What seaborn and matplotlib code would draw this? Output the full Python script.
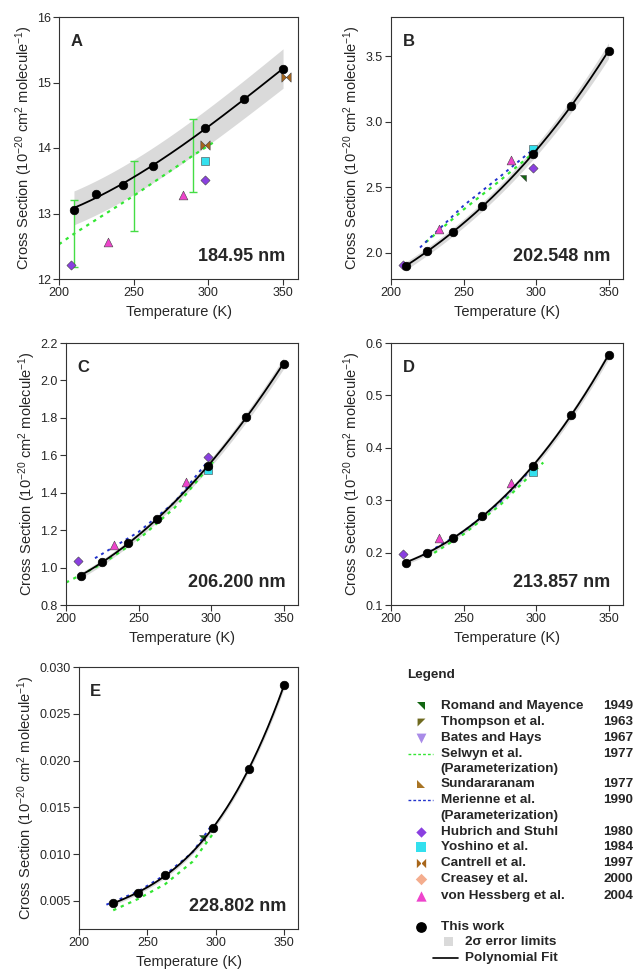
import numpy as np
import seaborn as sns
import matplotlib.pyplot as plt
from matplotlib.path import Path
from matplotlib.patches import Rectangle

sns.set_style('ticks')
plt.rcParams['font.family'] = ['Liberation Sans', 'DejaVu Sans']
plt.rcParams['mathtext.default'] = 'regular'

# this work temperatures (K)
T_work = [210, 225, 243, 263, 298, 324, 350]
T_work_E = [225, 243, 263, 298, 324, 350]

# this work cross sections, one list per wavelength
A_work = [13.06, 13.30, 13.43, 13.73, 14.30, 14.75, 15.21]
B_work = [1.898, 2.013, 2.158, 2.357, 2.751, 3.12, 3.541]
C_work = [0.957, 1.028, 1.133, 1.259, 1.542, 1.802, 2.09]
D_work = [0.181, 0.200, 0.227, 0.270, 0.365, 0.462, 0.577]
E_work = [0.00475, 0.00589, 0.00774, 0.01279, 0.01915, 0.02812]

# half width of the 2 sigma band
A_band = [0.26, 0.26, 0.26, 0.27, 0.28, 0.29, 0.30]
B_band = [0.03, 0.03, 0.03, 0.035, 0.04, 0.05, 0.06]
C_band = [0.015, 0.015, 0.016, 0.018, 0.02, 0.025, 0.03]
D_band = [0.004, 0.004, 0.004, 0.005, 0.006, 0.007, 0.008]
E_band = [0.0002, 0.0002, 0.0002, 0.0003, 0.0003, 0.0004]

# other measurements
T_hubrich = [208, 298]
A_hubrich = [12.22, 13.51]
B_hubrich = [1.906, 2.645]
C_hubrich = [1.035, 1.592]
T_hubrich_D = [208]
D_hubrich = [0.197]

T_hessberg = [233, 283]
A_hessberg = [12.57, 13.29]
B_hessberg = [2.183, 2.705]
C_hessberg = [1.12, 1.458]
D_hessberg = [0.227, 0.332]

T_yoshino = [298]
A_yoshino = [13.80]
B_yoshino = [2.789]
C_yoshino = [1.524]
D_yoshino = [0.353]

T_cantrell = [298, 352]
A_cantrell = [14.05, 15.08]

T_romand_B = [291]
B_romand = [2.57]
T_romand_E = [290]
E_romand = [0.0117]

# Selwyn et al. parameterization (green) and error bars
T_selwyn_A = [200, 210, 250, 290, 303]
A_selwyn = [12.53, 12.69, 13.27, 13.89, 14.08]
T_selwyn_err = [210, 250, 290]
A_selwyn_err = [12.69, 13.27, 13.89]
A_selwyn_sig = [0.51, 0.53, 0.56]
T_selwyn_B = [224, 250, 275, 298]
B_selwyn = [2.08, 2.33, 2.55, 2.76]
T_selwyn_C = [200, 225, 250, 275, 303]
C_selwyn = [0.92, 1.02, 1.15, 1.32, 1.58]
T_selwyn_D = [225, 250, 275, 305]
D_selwyn = [0.191, 0.235, 0.29, 0.372]
T_selwyn_E = [225, 243, 263, 283, 299]
E_selwyn = [0.0040, 0.0052, 0.0068, 0.0092, 0.0124]

# Merienne et al. parameterization (blue)
T_merienne_B = [220, 250, 275, 297]
B_merienne = [2.04, 2.36, 2.58, 2.78]
T_merienne_C = [220, 250, 275, 297]
C_merienne = [1.05, 1.19, 1.35, 1.56]
T_merienne_D = [222, 250, 275, 297]
D_merienne = [0.195, 0.24, 0.296, 0.36]
T_merienne_E = [220, 243, 263, 283, 297]
E_merienne = [0.0046, 0.0060, 0.0078, 0.0102, 0.0131]

legend_names = ['Romand and Mayence', 'Thompson et al.', 'Bates and Hays',
                'Selwyn et al.', 'Sundararanam', 'Merienne et al.',
                'Hubrich and Stuhl', 'Yoshino et al.', 'Cantrell et al.',
                'Creasey et al.', 'von Hessberg et al.']
legend_years = ['1949', '1963', '1967', '1977', '1977', '1990',
                '1980', '1984', '1997', '2000', '2004']

# colours
c_green = '#33e633'
c_blue = '#2233cc'
c_band = '#dadada'
c_hub = '#8a3fe0'
c_hes = '#ee44cc'
c_yos = '#33e0ee'
c_can = '#a8661a'
c_rom = '#116611'
c_tho = '#6f6a1f'
c_bat = '#a98be8'
c_sun = '#a87424'
c_cre = '#f4ad8e'

# custom markers
bowtie = Path([(-1, -1), (0, 0), (-1, 1), (-1, -1), (1, -1), (0, 0), (1, 1), (1, -1)],
              [Path.MOVETO, Path.LINETO, Path.LINETO, Path.CLOSEPOLY,
               Path.MOVETO, Path.LINETO, Path.LINETO, Path.CLOSEPOLY])
tri_tr = Path([(-1, 1), (1, 1), (1, -1), (-1, 1)],
              [Path.MOVETO, Path.LINETO, Path.LINETO, Path.CLOSEPOLY])
tri_tl = Path([(-1, 1), (1, 1), (-1, -1), (-1, 1)],
              [Path.MOVETO, Path.LINETO, Path.LINETO, Path.CLOSEPOLY])
tri_bl = Path([(-1, 1), (-1, -1), (1, -1), (-1, 1)],
              [Path.MOVETO, Path.LINETO, Path.LINETO, Path.CLOSEPOLY])

fig = plt.figure(figsize=(6.34, 9.71), dpi=100)
W, H = 634, 971


def px_axes(x0, x1, y0, y1):
    # axes box from pixel edges
    return fig.add_axes([x0 / W, 1 - y1 / H, (x1 - x0) / W, (y1 - y0) / H])


axA = px_axes(59, 298, 17, 279)
axB = px_axes(391, 623, 17, 279)
axC = px_axes(66, 298, 343, 605)
axD = px_axes(391, 623, 343, 605)
axE = px_axes(79, 298, 667, 929)


def work(ax, T, y, hw):
    tt = np.linspace(T[0], T[-1], 200)
    fit = np.polyval(np.polyfit(T, y, 3), tt)
    band = np.polyval(np.polyfit(T, hw, 2), tt)
    ax.fill_between(tt, fit - band, fit + band, color=c_band, lw=0, zorder=1)
    sns.lineplot(x=tt, y=fit, color='black', lw=1.3, ax=ax, zorder=4)
    sns.scatterplot(x=T, y=y, color='black', marker='o', s=38, edgecolor='black',
                    ax=ax, zorder=5)


def pts(ax, T, y, color, marker, s=30):
    sns.scatterplot(x=T, y=y, color=color, marker=marker, s=s,
                    edgecolor='#444444', linewidth=0.4, ax=ax, zorder=3)


def green(ax, T, y):
    sns.lineplot(x=T, y=y, color=c_green, lw=1.6, ax=ax, zorder=2,
                 linestyle=(0, (1.5, 2.2)))


def blue(ax, T, y):
    sns.lineplot(x=T, y=y, color=c_blue, lw=1.4, ax=ax, zorder=2,
                 linestyle=(0, (1.5, 2.2)))


def style(ax, letter, wl, ylim, yticks, fmt):
    ax.set_xlim(200, 360)
    ax.set_ylim(*ylim)
    ax.set_xticks([200, 250, 300, 350])
    ax.set_yticks(yticks)
    ax.set_yticklabels([fmt.format(v) for v in yticks])
    for s in ax.spines.values():
        s.set_visible(True)
        s.set_color('#333333')
        s.set_linewidth(0.8)
    ax.tick_params(direction='out', length=4, width=0.8, color='#333333',
                   labelsize=9, pad=2)
    ax.set_xlabel('Temperature (K)', fontsize=10.5, labelpad=4)
    ax.set_ylabel('Cross Section (10$^{-20}$ cm$^2$ molecule$^{-1}$)',
                  fontsize=10.5, labelpad=1.5)
    ax.text(0.05, 0.905, letter, transform=ax.transAxes, fontsize=12,
            fontweight='bold', va='center', ha='left')
    ax.text(0.945, 0.085, wl, transform=ax.transAxes, fontsize=13,
            fontweight='bold', va='center', ha='right')


# A 184.95 nm
work(axA, T_work, A_work, A_band)
green(axA, T_selwyn_A, A_selwyn)
axA.errorbar(T_selwyn_err, A_selwyn_err, yerr=A_selwyn_sig, fmt='none',
             ecolor='#44dd44', elinewidth=1, capsize=3, capthick=1, zorder=2)
pts(axA, T_hubrich, A_hubrich, c_hub, 'D', 22)
pts(axA, T_hessberg, A_hessberg, c_hes, '^', 40)
pts(axA, T_yoshino, A_yoshino, c_yos, 's', 28)
pts(axA, T_cantrell, A_cantrell, c_can, bowtie, 45)
style(axA, 'A', '184.95 nm', (12, 16), [12, 13, 14, 15, 16], '{:.0f}')

# B 202.548 nm
work(axB, T_work, B_work, B_band)
green(axB, T_selwyn_B, B_selwyn)
blue(axB, T_merienne_B, B_merienne)
pts(axB, T_hubrich, B_hubrich, c_hub, 'D', 22)
pts(axB, T_hessberg, B_hessberg, c_hes, '^', 40)
pts(axB, T_yoshino, B_yoshino, c_yos, 's', 28)
pts(axB, T_romand_B, B_romand, c_rom, tri_tr, 22)
style(axB, 'B', '202.548 nm', (1.8, 3.8), [2.0, 2.5, 3.0, 3.5], '{:.1f}')

# C 206.200 nm
work(axC, T_work, C_work, C_band)
green(axC, T_selwyn_C, C_selwyn)
blue(axC, T_merienne_C, C_merienne)
pts(axC, T_hubrich, C_hubrich, c_hub, 'D', 22)
pts(axC, T_hessberg, C_hessberg, c_hes, '^', 40)
pts(axC, T_yoshino, C_yoshino, c_yos, 's', 28)
style(axC, 'C', '206.200 nm', (0.8, 2.2), [0.8, 1.0, 1.2, 1.4, 1.6, 1.8, 2.0, 2.2], '{:.1f}')

# D 213.857 nm
work(axD, T_work, D_work, D_band)
green(axD, T_selwyn_D, D_selwyn)
blue(axD, T_merienne_D, D_merienne)
pts(axD, T_hubrich_D, D_hubrich, c_hub, 'D', 22)
pts(axD, T_hessberg, D_hessberg, c_hes, '^', 40)
pts(axD, T_yoshino, D_yoshino, c_yos, 's', 28)
style(axD, 'D', '213.857 nm', (0.1, 0.6), [0.1, 0.2, 0.3, 0.4, 0.5, 0.6], '{:.1f}')

# E 228.802 nm
work(axE, T_work_E, E_work, E_band)
green(axE, T_selwyn_E, E_selwyn)
blue(axE, T_merienne_E, E_merienne)
pts(axE, T_romand_E, E_romand, c_rom, tri_tr, 22)
style(axE, 'E', '228.802 nm', (0.002, 0.030),
      [0.005, 0.010, 0.015, 0.020, 0.025, 0.030], '{:.3f}')

# legend drawn in pixel coordinates
lax = fig.add_axes([400 / W, 0, 234 / W, 311 / H])
lax.set_xlim(400, 634)
lax.set_ylim(971, 660)
lax.axis('off')
fs = 9.7
lax.text(407, 675, 'Legend', fontsize=fs, fontweight='bold', va='center')

row_y = [705.7, 721.7, 738.3, 753.7, 784.3, 800, 831.7, 847.3, 862.7, 879, 895.7]
keys = [('m', c_rom, tri_tr, 32), ('m', c_tho, tri_tl, 32), ('m', c_bat, 'v', 50),
        ('l', c_green, None, 0), ('m', c_sun, tri_bl, 32), ('l', c_blue, None, 0),
        ('m', c_hub, 'D', 28), ('m', c_yos, 's', 45), ('m', c_can, bowtie, 45),
        ('m', c_cre, 'D', 34), ('m', c_hes, '^', 55)]
for y, name, yr, (kind, col, mk, s) in zip(row_y, legend_names, legend_years, keys):
    if kind == 'm':
        lax.scatter([420.7], [y], color=col, marker=mk, s=s, linewidths=0)
    else:
        lax.plot([408, 433], [y, y], color=col, lw=1, linestyle=(0, (2, 1.5)))
    lax.text(440.7, y, name, fontsize=fs, fontweight='bold', va='center')
    lax.text(603.3, y, yr, fontsize=fs, fontweight='bold', va='center')
    if kind == 'l':
        lax.text(440.7, y + 15.6, '(Parameterization)', fontsize=fs,
                 fontweight='bold', va='center')

lax.scatter([420.7], [926.7], color='black', marker='o', s=45)
lax.text(440.7, 926.7, 'This work', fontsize=fs, fontweight='bold', va='center')
lax.add_patch(Rectangle((444, 937.2), 9, 9, color=c_band, lw=0))
lax.text(465, 941.7, '2σ error limits', fontsize=fs, fontweight='bold', va='center')
lax.plot([433, 458], [957.7, 957.7], color='black', lw=1.2)
lax.text(465, 957.7, 'Polynomial Fit', fontsize=fs, fontweight='bold', va='center')

fig.savefig('out.png', dpi=100)
